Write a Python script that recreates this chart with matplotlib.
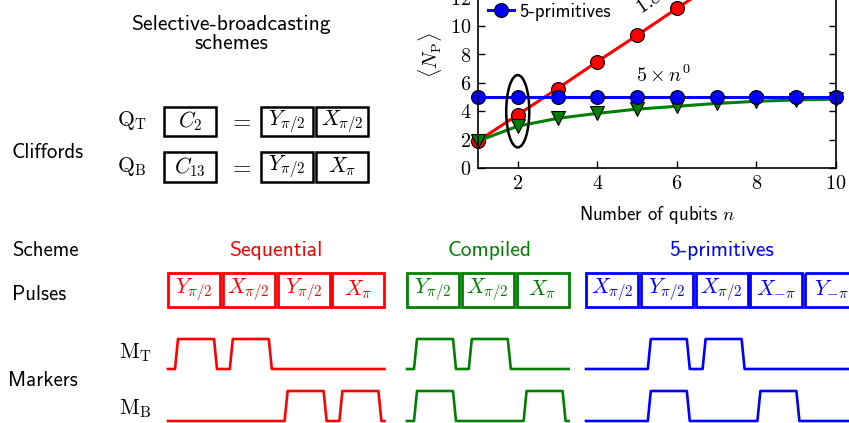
import matplotlib
matplotlib.use('Agg')
import matplotlib.pyplot as plt
from matplotlib.patches import Ellipse, Rectangle

plt.rcParams['mathtext.fontset'] = 'cm'
plt.rcParams['font.family'] = ['cmss10', 'DejaVu Sans']
plt.rcParams['axes.unicode_minus'] = False

# scaling of the number of pulses with the number of qubits
n_qubits = [1, 2, 3, 4, 5, 6, 7, 8, 9, 10]
pulses_sequential = [1.9, 3.75, 5.6, 7.5, 9.35, 11.25, 13.1, 15.0, 16.9, 18.75]
pulses_compiled = [1.9, 2.95, 3.5, 3.85, 4.15, 4.35, 4.55, 4.7, 4.8, 4.85]
pulses_primitives = [5, 5, 5, 5, 5, 5, 5, 5, 5, 5]
xticks = [2, 4, 6, 8, 10]
yticks = [0, 2, 4, 6, 8, 10, 12, 14, 16]

# schematic: cliffords and pulse schemes
clifford_qt = [r'$Y_{\pi/2}$', r'$X_{\pi/2}$']
clifford_qb = [r'$Y_{\pi/2}$', r'$X_{\pi}$']
scheme_names = ['Sequential', 'Compiled', '5-primitives']
scheme_colors = ['#ff0000', '#008000', '#0000ff']
scheme_pulses = [
    [r'$Y_{\pi/2}$', r'$X_{\pi/2}$', r'$Y_{\pi/2}$', r'$X_{\pi}$'],
    [r'$Y_{\pi/2}$', r'$X_{\pi/2}$', r'$X_{\pi}$'],
    [r'$X_{\pi/2}$', r'$Y_{\pi/2}$', r'$X_{\pi/2}$', r'$X_{-\pi}$', r'$Y_{-\pi}$'],
]
marker_top = [[1, 1, 0, 0], [1, 1, 0], [0, 1, 1, 0, 0]]
marker_bottom = [[0, 0, 1, 1], [1, 0, 1], [0, 1, 0, 1, 0]]

fig = plt.figure(figsize=(8.49, 4.23), dpi=100)

# ---- schematic canvas in pixel units ----
sk = fig.add_axes([0, 0, 1, 1], zorder=0)
sk.set_xlim(0, 849)
sk.set_ylim(423, 0)
sk.axis('off')

FS = 15.5      # schematic labels
PFS = 13.5     # plot labels
BOX_FS = 15.5
box_w = 52
pitch = 54.8


def box(x, y, w, h, label, color, lw):
    sk.add_patch(Rectangle((x, y), w, h, fill=False, ec=color, lw=lw))
    sk.text(x + w / 2, y + h / 2, label, color=color, fontsize=BOX_FS,
            ha='center', va='center')


sk.text(231, 34, 'Selective-broadcasting\nschemes', fontsize=FS, ha='center',
        va='center', linespacing=1.05)
sk.text(12, 152, 'Cliffords', fontsize=15, ha='left', va='center')
sk.text(132, 120, r'$\mathrm{Q}_\mathrm{T}$', fontsize=FS, ha='center', va='center')
sk.text(132, 167, r'$\mathrm{Q}_\mathrm{B}$', fontsize=FS, ha='center', va='center')
box(164, 107, 52, 29, r'$C_2$', 'black', 1.8)
box(164, 152, 52, 30, r'$C_{13}$', 'black', 1.8)
sk.text(240, 121, r'$=$', fontsize=17, ha='center', va='center')
sk.text(240, 167, r'$=$', fontsize=17, ha='center', va='center')
for k, lab in enumerate(clifford_qt):
    box(261 + k * 55, 107, 52, 29, lab, 'black', 1.8)
for k, lab in enumerate(clifford_qb):
    box(261 + k * 55, 152, 52, 30, lab, 'black', 1.8)

sk.text(12, 250, 'Scheme', fontsize=15, ha='left', va='center')
sk.text(12, 294, 'Pulses', fontsize=15, ha='left', va='center')
sk.text(8, 381, 'Markers', fontsize=15, ha='left', va='center')
sk.text(135, 353, r'$\mathrm{M}_\mathrm{T}$', fontsize=FS, ha='center', va='center')
sk.text(135, 409, r'$\mathrm{M}_\mathrm{B}$', fontsize=FS, ha='center', va='center')


def trace(states, x0, base):
    xs = [x0]
    ys = [base]
    for k, s in enumerate(states):
        if s:
            a = x0 + k * pitch + 7
            xs += [a, a + 3, a + 39, a + 42]
            ys += [base, base - 30, base - 30, base]
    xs.append(x0 + (len(states) - 1) * pitch + box_w)
    ys.append(base)
    return xs, ys


scheme_x0 = [168, 407, 586]
scheme_title_x = [276, 490, 722]
for name, col, pul, mt, mb, x0, tx in zip(scheme_names, scheme_colors, scheme_pulses,
                                          marker_top, marker_bottom, scheme_x0,
                                          scheme_title_x):
    sk.text(tx, 250, name, color=col, fontsize=FS, ha='center', va='center')
    for k, lab in enumerate(pul):
        box(x0 + k * pitch, 273, box_w, 34, lab, col, 2.0)
    xs, ys = trace(mt, x0, 369)
    sk.plot(xs, ys, color=col, lw=1.9)
    xs, ys = trace(mb, x0, 421)
    sk.plot(xs, ys, color=col, lw=1.9)

# ---- scaling plot ----
ax = fig.add_axes([478 / 849, 1 - 168 / 423, 358 / 849, 227 / 423], zorder=1)
ax.plot(n_qubits, pulses_sequential, '-o', color='#ff0000', lw=2.2, ms=10,
        mec='black', mew=0.8, label='Sequential', clip_on=False)
ax.plot(n_qubits, pulses_compiled, '-v', color='#008000', lw=2.2, ms=10,
        mec='black', mew=0.8, label='Compiled', clip_on=False)
ax.plot(n_qubits, pulses_primitives, '-o', color='#0000ff', lw=2.2, ms=10,
        mec='black', mew=0.8, label='5-primitives', clip_on=False)
ax.add_patch(Ellipse((2, 4.0), 0.58, 5.1, fill=False, ec='black', lw=1.8, zorder=5))
ax.text(5.65, 6.55, r'$5\times n^0$', fontsize=14.5, ha='center', va='center')
ax.text(5.15, 10.6, r'$1.875\times n$', fontsize=14.5, ha='left', va='bottom',
        rotation=34, rotation_mode='anchor')
ax.set_xlim(1, 10)
ax.set_ylim(0, 16)
ax.set_xticks(xticks)
ax.set_xticklabels([f'${t}$' for t in xticks], fontsize=14.5)
ax.set_yticks(yticks)
ax.set_yticklabels([f'${t}$' for t in yticks], fontsize=14.5)
ax.tick_params(direction='in', top=True, right=True, length=5, width=1, pad=5)
for sp in ax.spines.values():
    sp.set_linewidth(1.2)
ax.set_xlabel(r'Number of qubits $n$', fontsize=PFS, labelpad=8)
ax.set_ylabel(r'$\langle N_\mathrm{P}\rangle$', fontsize=14.5, labelpad=4)
ax.legend(loc='upper left', frameon=False, fontsize=PFS, handlelength=1.35,
          labelspacing=0.42, borderpad=0.2, borderaxespad=0.35, handletextpad=0.3)

fig.savefig('out.png', dpi=100)
